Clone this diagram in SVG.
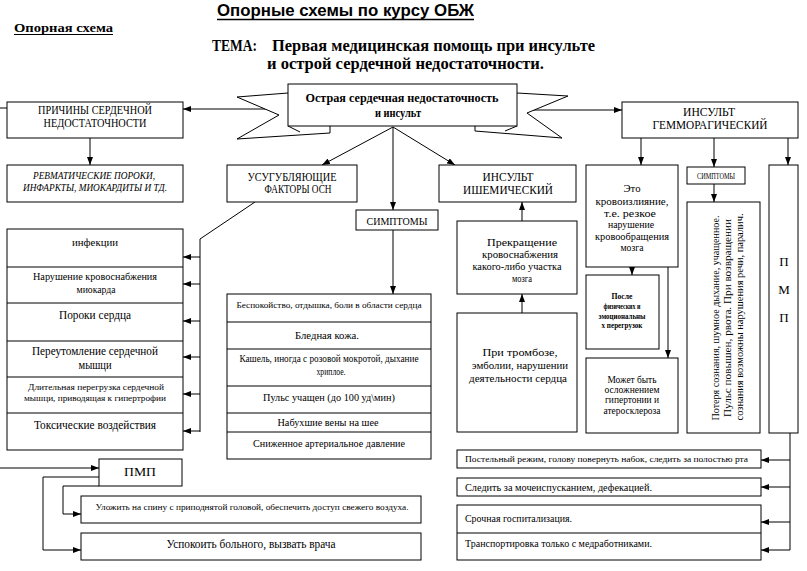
<svg xmlns="http://www.w3.org/2000/svg" width="807" height="571" viewBox="0 0 807 571">
<style>
.b{fill:#fff;stroke:#000;stroke-width:1}
.l{fill:none;stroke:#000;stroke-width:1}
text{font-family:"Liberation Serif","Times New Roman",serif;fill:#000}
.c{text-anchor:middle}
.bd{font-weight:bold}
.it{font-style:italic}
</style>
<defs>
<marker id="a" viewBox="0 0 8 6" refX="8" refY="3" markerWidth="8" markerHeight="6" markerUnits="userSpaceOnUse" orient="auto">
<path d="M0,0 L8,3 L0,6 Z" fill="#000"/>
</marker>
</defs>
<rect width="807" height="571" fill="#fff"/>

<g id="header">
<text x="217" y="16" font-size="17" class="bd" style="font-family:'Liberation Sans',Arial,sans-serif" textLength="257" lengthAdjust="spacingAndGlyphs">Опорные схемы по курсу ОБЖ</text>
<line x1="217" y1="19.5" x2="474" y2="19.5" stroke="#000" stroke-width="1.5"/>
<text x="14" y="32" font-size="13.5" class="bd" textLength="99" lengthAdjust="spacingAndGlyphs">Опорная схема</text>
<line x1="14" y1="34.5" x2="113" y2="34.5" stroke="#000" stroke-width="1"/>
<text x="212" y="51" font-size="16" class="bd" textLength="45" lengthAdjust="spacingAndGlyphs">ТЕМА:</text>
<text x="272" y="51" font-size="16" class="bd" textLength="323" lengthAdjust="spacingAndGlyphs">Первая медицинская помощь при инсульте</text>
<text x="267" y="69" font-size="16" class="bd" textLength="277" lengthAdjust="spacingAndGlyphs">и острой сердечной недостаточности.</text>
</g>

<g id="connectors">
<line class="l" x1="0" y1="108" x2="7" y2="108"/>
<line class="l" x1="272" y1="109" x2="183" y2="109" marker-end="url(#a)"/>
<line class="l" x1="90" y1="138" x2="90" y2="165" marker-end="url(#a)"/>
<line class="l" x1="393" y1="127" x2="322" y2="165" marker-end="url(#a)"/>
<line class="l" x1="393" y1="127" x2="393" y2="210" marker-end="url(#a)"/>
<line class="l" x1="393" y1="127" x2="455" y2="165" marker-end="url(#a)"/>
<line class="l" x1="393" y1="230" x2="393" y2="294" marker-end="url(#a)"/>
<line class="l" x1="527" y1="110" x2="622" y2="110" marker-end="url(#a)"/>
<polyline class="l" points="255,202 200,239 200,432"/>
<line class="l" x1="200" y1="257" x2="183" y2="257" marker-end="url(#a)"/>
<line class="l" x1="200" y1="284" x2="183" y2="284" marker-end="url(#a)"/>
<line class="l" x1="200" y1="321" x2="183" y2="321" marker-end="url(#a)"/>
<line class="l" x1="200" y1="357" x2="183" y2="357" marker-end="url(#a)"/>
<line class="l" x1="200" y1="394" x2="183" y2="394" marker-end="url(#a)"/>
<line class="l" x1="200" y1="431" x2="183" y2="431" marker-end="url(#a)"/>
<line class="l" x1="522" y1="221" x2="522" y2="202" marker-end="url(#a)"/>
<line class="l" x1="522" y1="313" x2="522" y2="294" marker-end="url(#a)"/>
<line class="l" x1="641" y1="138" x2="641" y2="165" marker-end="url(#a)"/>
<line class="l" x1="714" y1="138" x2="714" y2="167" marker-end="url(#a)"/>
<line class="l" x1="788" y1="138" x2="788" y2="165" marker-end="url(#a)"/>
<line class="l" x1="714" y1="184" x2="714" y2="202" marker-end="url(#a)"/>
<line class="l" x1="632" y1="267" x2="632" y2="275" marker-end="url(#a)"/>
<line class="l" x1="668" y1="267" x2="668" y2="358" marker-end="url(#a)"/>
<line class="l" x1="790" y1="433" x2="790" y2="550"/>
<line class="l" x1="790" y1="460" x2="761" y2="460" marker-end="url(#a)"/>
<line class="l" x1="790" y1="487" x2="761" y2="487" marker-end="url(#a)"/>
<line class="l" x1="790" y1="522" x2="761" y2="522" marker-end="url(#a)"/>
<line class="l" x1="790" y1="550" x2="761" y2="550" marker-end="url(#a)"/>
<line class="l" x1="0" y1="468" x2="99" y2="468" marker-end="url(#a)"/>
<polyline class="l" points="99,477 43,477 43,550 81,550" marker-end="url(#a)"/>
<polyline class="l" points="99,486 63,486 63,514 81,514" marker-end="url(#a)"/>
</g>

<g id="banner">
<polygon class="b" points="288,93 237,97 279,115 237,139 330,133 330,126"/>
<polygon class="b" points="517,93 568,96 527,113 562,138 475,131 475,126"/>
<polyline class="l" points="288,126 300,132"/>
<polyline class="l" points="517,126 505,131"/>
<rect class="b" x="288" y="84" width="229" height="42"/>
<text x="402" y="102" font-size="12.5" class="c bd" textLength="193" lengthAdjust="spacingAndGlyphs">Острая сердечная недостаточность</text>
<text x="398" y="117" font-size="12.5" class="c bd" textLength="46" lengthAdjust="spacingAndGlyphs">и инсульт</text>
</g>

<g id="causes">
<rect class="b" x="7" y="102" width="176" height="36"/>
<text x="95" y="114" font-size="12" class="c" textLength="114" lengthAdjust="spacingAndGlyphs">ПРИЧИНЫ СЕРДЕЧНОЙ</text>
<text x="95" y="127" font-size="12" class="c" textLength="103" lengthAdjust="spacingAndGlyphs">НЕДОСТАТОЧНОСТИ</text>
</g>

<g id="causes-examples">
<rect class="b" x="7" y="165" width="176" height="37"/>
<text x="94" y="179" font-size="10.5" class="c it" textLength="122" lengthAdjust="spacingAndGlyphs">РЕВМАТИЧЕСКИЕ ПОРОКИ,</text>
<text x="95" y="191" font-size="10.5" class="c it" textLength="144" lengthAdjust="spacingAndGlyphs">ИНФАРКТЫ, МИОКАРДИТЫ И ТД.</text>
</g>

<g id="factors">
<rect class="b" x="227" y="165" width="130" height="37"/>
<text x="292" y="181" font-size="11.5" class="c" textLength="89" lengthAdjust="spacingAndGlyphs">УСУГУБЛЯЮЩИЕ</text>
<text x="298" y="193" font-size="11.5" class="c" textLength="67" lengthAdjust="spacingAndGlyphs">ФАКТОРЫ ОСН</text>
</g>

<g id="factors-list">
<rect class="b" x="7" y="229" width="176" height="221"/>
<line class="l" x1="7" y1="267" x2="183" y2="267"/>
<line class="l" x1="7" y1="303" x2="183" y2="303"/>
<line class="l" x1="7" y1="341" x2="183" y2="341"/>
<line class="l" x1="7" y1="377" x2="183" y2="377"/>
<line class="l" x1="7" y1="413" x2="183" y2="413"/>
<text x="95" y="246" font-size="11" class="c" textLength="46" lengthAdjust="spacingAndGlyphs">инфекции</text>
<text x="95" y="280" font-size="10" class="c" textLength="124" lengthAdjust="spacingAndGlyphs">Нарушение кровоснабжения</text>
<text x="96" y="293" font-size="10" class="c" textLength="39" lengthAdjust="spacingAndGlyphs">миокарда</text>
<text x="95" y="319" font-size="11.5" class="c" textLength="72" lengthAdjust="spacingAndGlyphs">Пороки сердца</text>
<text x="95" y="355" font-size="12" class="c" textLength="126" lengthAdjust="spacingAndGlyphs">Переутомление сердечной</text>
<text x="95" y="369" font-size="12" class="c" textLength="33" lengthAdjust="spacingAndGlyphs">мышци</text>
<text x="96" y="390" font-size="9" class="c" textLength="136" lengthAdjust="spacingAndGlyphs">Длительная перегрузка сердечной</text>
<text x="95" y="401" font-size="9" class="c" textLength="142" lengthAdjust="spacingAndGlyphs">мышци, приводящая к гипертрофии</text>
<text x="95" y="429" font-size="12" class="c" textLength="122" lengthAdjust="spacingAndGlyphs">Токсические воздействия</text>
</g>

<g id="symptoms-label">
<rect class="b" x="356" y="210" width="82" height="20"/>
<text x="397" y="224.5" font-size="11" class="c" textLength="61" lengthAdjust="spacingAndGlyphs">СИМПТОМЫ</text>
</g>

<g id="symptoms-list">
<rect class="b" x="227" y="294" width="204" height="165"/>
<line class="l" x1="227" y1="322" x2="431" y2="322"/>
<line class="l" x1="227" y1="349" x2="431" y2="349"/>
<line class="l" x1="227" y1="386" x2="431" y2="386"/>
<line class="l" x1="227" y1="413" x2="431" y2="413"/>
<line class="l" x1="227" y1="432" x2="431" y2="432"/>
<text x="329" y="308" font-size="9" class="c" textLength="185" lengthAdjust="spacingAndGlyphs">Беспокойство, отдышка, боли в области сердца</text>
<text x="327" y="339" font-size="11" class="c" textLength="64" lengthAdjust="spacingAndGlyphs">Бледная кожа.</text>
<text x="329" y="362" font-size="9.5" class="c" textLength="179" lengthAdjust="spacingAndGlyphs">Кашель, иногда с розовой мокротой, дыхание</text>
<text x="331" y="375" font-size="9.5" class="c" textLength="29" lengthAdjust="spacingAndGlyphs">хриплое.</text>
<text x="329" y="401" font-size="11" class="c" textLength="132" lengthAdjust="spacingAndGlyphs">Пульс учащен (до 100 уд\мин)</text>
<text x="328" y="426" font-size="10" class="c" textLength="101" lengthAdjust="spacingAndGlyphs">Набухшие вены на шее</text>
<text x="329" y="447" font-size="10.5" class="c" textLength="152" lengthAdjust="spacingAndGlyphs">Сниженное артериальное давление</text>
</g>

<g id="ischemic">
<rect class="b" x="439" y="165" width="137" height="37"/>
<text x="508" y="181" font-size="12" class="c" textLength="51" lengthAdjust="spacingAndGlyphs">ИНСУЛЬТ</text>
<text x="508" y="194" font-size="12" class="c" textLength="90" lengthAdjust="spacingAndGlyphs">ИШЕМИЧЕСКИЙ</text>
</g>

<g id="ischemic-cause">
<rect class="b" x="457" y="221" width="120" height="73"/>
<text x="522" y="246" font-size="10" class="c" textLength="70" lengthAdjust="spacingAndGlyphs">Прекращение</text>
<text x="520" y="258" font-size="10" class="c" textLength="76" lengthAdjust="spacingAndGlyphs">кровоснабжения</text>
<text x="517" y="270" font-size="10" class="c" textLength="89" lengthAdjust="spacingAndGlyphs">какого-либо участка</text>
<text x="522" y="282" font-size="10" class="c" textLength="20" lengthAdjust="spacingAndGlyphs">мозга</text>
</g>

<g id="ischemic-origin">
<rect class="b" x="457" y="313" width="120" height="119"/>
<text x="520" y="356" font-size="11" class="c" textLength="75" lengthAdjust="spacingAndGlyphs">При тромбозе,</text>
<text x="520" y="369" font-size="11" class="c" textLength="96" lengthAdjust="spacingAndGlyphs">эмболии, нарушении</text>
<text x="518" y="382" font-size="11" class="c" textLength="98" lengthAdjust="spacingAndGlyphs">деятельности сердца</text>
</g>

<g id="hemorrhagic">
<rect class="b" x="622" y="102" width="176" height="36"/>
<text x="709" y="116" font-size="12" class="c" textLength="52" lengthAdjust="spacingAndGlyphs">ИНСУЛЬТ</text>
<text x="710" y="129" font-size="12" class="c" textLength="115" lengthAdjust="spacingAndGlyphs">ГЕММОРАГИЧЕСКИЙ</text>
</g>

<g id="hemorrhagic-def">
<rect class="b" x="586" y="165" width="92" height="102"/>
<text x="632" y="192" font-size="10.5" class="c" textLength="17" lengthAdjust="spacingAndGlyphs">Это</text>
<text x="632" y="205" font-size="10.5" class="c" textLength="73" lengthAdjust="spacingAndGlyphs">кровоизлияние,</text>
<text x="630" y="217" font-size="10.5" class="c" textLength="52" lengthAdjust="spacingAndGlyphs">т.е. резкое</text>
<text x="631" y="228" font-size="10.5" class="c" textLength="46" lengthAdjust="spacingAndGlyphs">нарушение</text>
<text x="632" y="240" font-size="10.5" class="c" textLength="74" lengthAdjust="spacingAndGlyphs">кровообращения</text>
<text x="632" y="251" font-size="10.5" class="c" textLength="23" lengthAdjust="spacingAndGlyphs">мозга</text>
</g>

<g id="hemorrhagic-trigger">
<rect class="b" x="586" y="275" width="73" height="74"/>
<text x="622" y="299" font-size="8.5" class="c bd" textLength="21" lengthAdjust="spacingAndGlyphs">После</text>
<text x="622" y="309" font-size="8.5" class="c bd" textLength="37" lengthAdjust="spacingAndGlyphs">физических и</text>
<text x="622" y="319" font-size="8.5" class="c bd" textLength="47" lengthAdjust="spacingAndGlyphs">эмоциональны</text>
<text x="622" y="328" font-size="8.5" class="c bd" textLength="41" lengthAdjust="spacingAndGlyphs">х перегрузок</text>
</g>

<g id="hemorrhagic-complication">
<rect class="b" x="586" y="358" width="92" height="75"/>
<text x="632" y="383" font-size="10" class="c" textLength="49" lengthAdjust="spacingAndGlyphs">Может быть</text>
<text x="632" y="393" font-size="10" class="c" textLength="55" lengthAdjust="spacingAndGlyphs">осложнением</text>
<text x="632" y="403" font-size="10" class="c" textLength="54" lengthAdjust="spacingAndGlyphs">гипертонии и</text>
<text x="632" y="414" font-size="10" class="c" textLength="57" lengthAdjust="spacingAndGlyphs">атеросклероза</text>
</g>

<g id="hemorrhagic-symptoms-label">
<rect class="b" x="687" y="167" width="58" height="17"/>
<text x="716" y="179" font-size="9" class="c" textLength="38" lengthAdjust="spacingAndGlyphs">СИМПТОМЫ</text>
</g>

<g id="hemorrhagic-symptoms">
<rect class="b" x="687" y="202" width="73" height="231"/>
<text transform="translate(719,318) rotate(-90)" font-size="10.5" class="c" textLength="205" lengthAdjust="spacingAndGlyphs">Потеря сознания, шумное дыхание, учащенное.</text>
<text transform="translate(731,318) rotate(-90)" font-size="10.5" class="c" textLength="198" lengthAdjust="spacingAndGlyphs">Пульс повышен, рвота. При возвращении</text>
<text transform="translate(743,317) rotate(-90)" font-size="10.5" class="c" textLength="207" lengthAdjust="spacingAndGlyphs">сознания возможны нарушения речи, паралич.</text>
</g>

<g id="pmp-stroke">
<rect class="b" x="769" y="165" width="29" height="268"/>
<text x="784" y="266" font-size="13" class="c">П</text>
<text x="784" y="294" font-size="13" class="c">М</text>
<text x="784" y="322" font-size="13" class="c">П</text>
</g>

<g id="stroke-aid-1">
<rect class="b" x="457" y="450" width="304" height="18"/>
<text x="465" y="462" font-size="9" textLength="283" lengthAdjust="spacingAndGlyphs">Постельный режим, голову повернуть набок, следить за полостью рта</text>
</g>
<g id="stroke-aid-2">
<rect class="b" x="457" y="478" width="304" height="18"/>
<text x="465" y="491" font-size="10.5" textLength="187" lengthAdjust="spacingAndGlyphs">Следить за мочеиспусканием, дефекацией.</text>
</g>
<g id="stroke-aid-3">
<rect class="b" x="457" y="505" width="304" height="55"/>
<line class="l" x1="457" y1="533" x2="761" y2="533"/>
<text x="465" y="522" font-size="10.5" textLength="107" lengthAdjust="spacingAndGlyphs">Срочная госпитализация.</text>
<text x="465" y="547" font-size="10.5" textLength="187" lengthAdjust="spacingAndGlyphs">Транспортировка только с медработниками.</text>
</g>

<g id="pmp-heart">
<rect class="b" x="99" y="459" width="83" height="27"/>
<text x="140" y="476" font-size="12" class="c" textLength="32" lengthAdjust="spacingAndGlyphs">ПМП</text>
</g>
<g id="heart-aid-1">
<rect class="b" x="81" y="496" width="340" height="27"/>
<text x="252" y="510" font-size="9" class="c" textLength="313" lengthAdjust="spacingAndGlyphs">Уложить на спину с приподнятой головой, обеспечить доступ свежего воздуха.</text>
</g>
<g id="heart-aid-2">
<rect class="b" x="81" y="533" width="340" height="27"/>
<text x="251" y="548" font-size="11.5" class="c" textLength="169" lengthAdjust="spacingAndGlyphs">Успокоить больного, вызвать врача</text>
</g>
</svg>
